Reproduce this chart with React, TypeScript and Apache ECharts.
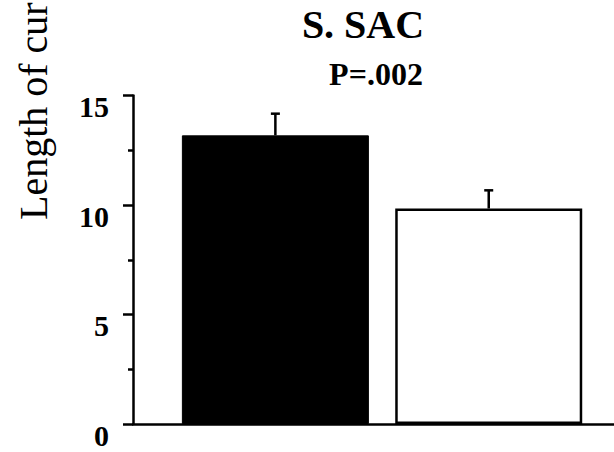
import React, { useEffect, useRef } from "react";
import * as echarts from "echarts";

const groups = ["Group A", "Group B"];
const means = [13.18, 9.84];
const errTops = [14.17, 10.67];
const yTicks = [0, 5, 10, 15];
const titleText = "S. SAC";
const pText = "P=.002";
const yName = "Length of cur";

export default function App() {
  const ref = useRef<HTMLDivElement>(null);
  useEffect(() => {
    if (!ref.current) return;
    const chart = echarts.init(ref.current, null, { renderer: "svg" });
    const serif = "Liberation Serif";
    const yMin = yTicks[0];
    const yMax = yTicks[yTicks.length - 1];
    const interval = yTicks[1] - yTicks[0];
    chart.setOption({
      animation: false,
      backgroundColor: "#ffffff",
      title: [
        {
          text: titleText,
          left: 363,
          top: 4,
          padding: 0,
          textAlign: "center",
          textStyle: { fontFamily: serif, fontWeight: "bold", fontSize: 40, color: "#000" },
        },
        {
          text: pText,
          left: 376,
          top: 58,
          padding: 0,
          textAlign: "center",
          textStyle: { fontFamily: serif, fontWeight: "bold", fontSize: 32, color: "#000" },
        },
      ],
      graphic: [
        {
          type: "text",
          x: 33.5,
          y: 220,
          rotation: Math.PI / 2,
          style: {
            text: yName,
            font: "40px 'Liberation Serif'",
            fill: "#000",
            align: "left",
            verticalAlign: "middle",
          },
        },
      ],
      grid: [
        { left: 133, right: 0, top: 95.5, bottom: 28 },
        { left: 168.7, right: 18.6, top: 95.5, bottom: 28 },
      ],
      xAxis: [
        {
          type: "category",
          gridIndex: 0,
          data: [""],
          axisLine: { show: true, lineStyle: { color: "#000", width: 2.5 } },
          axisTick: { show: false },
          axisLabel: { show: false },
        },
        {
          type: "category",
          gridIndex: 1,
          data: groups,
          axisLine: { show: false },
          axisTick: { show: false },
          axisLabel: { show: false },
        },
      ],
      yAxis: [
        {
          type: "value",
          gridIndex: 0,
          min: yMin,
          max: yMax,
          interval: interval,
          splitLine: { show: false },
          axisLine: { show: true, lineStyle: { color: "#000", width: 2.5 } },
          axisTick: { show: true, length: 10, lineStyle: { color: "#000", width: 2.5 } },
          minorTick: { show: true, splitNumber: 2, length: 5, lineStyle: { color: "#000", width: 2.5 } },
          axisLabel: {
            margin: 24,
            color: "#000",
            fontFamily: serif,
            fontWeight: "bold",
            fontSize: 30,
            lineHeight: 22,
            verticalAlign: "top",
          },
        },
        {
          type: "value",
          gridIndex: 1,
          min: yMin,
          max: yMax,
          interval: interval,
          show: false,
          splitLine: { show: false },
        },
      ],
      series: [
        {
          type: "bar",
          xAxisIndex: 1,
          yAxisIndex: 1,
          barWidth: 187,
          data: means.map((v, i) => ({
            value: v,
            itemStyle:
              i === 0
                ? { color: "#000", borderColor: "#000", borderWidth: 1 }
                : { color: "#fff", borderColor: "#000", borderWidth: 2.5 },
          })),
        },
        {
          type: "custom",
          xAxisIndex: 1,
          yAxisIndex: 1,
          data: means.map((m, i) => [i, m, errTops[i]]),
          renderItem: (params: any, api: any) => {
            const base = api.coord([api.value(0), api.value(1)]);
            const top = api.coord([api.value(0), api.value(2)]);
            const st = { stroke: "#000", lineWidth: 2.5 };
            return {
              type: "group",
              children: [
                { type: "line", shape: { x1: base[0], y1: base[1], x2: top[0], y2: top[1] }, style: st },
                { type: "line", shape: { x1: top[0] - 4.5, y1: top[1], x2: top[0] + 4.5, y2: top[1] }, style: st },
              ],
            };
          },
        },
      ],
    });
    return () => chart.dispose();
  }, []);
  return (
    <div
      ref={ref}
      style={{ position: "fixed", left: 0, top: 0, width: 614, height: 452 }}
    />
  );
}
